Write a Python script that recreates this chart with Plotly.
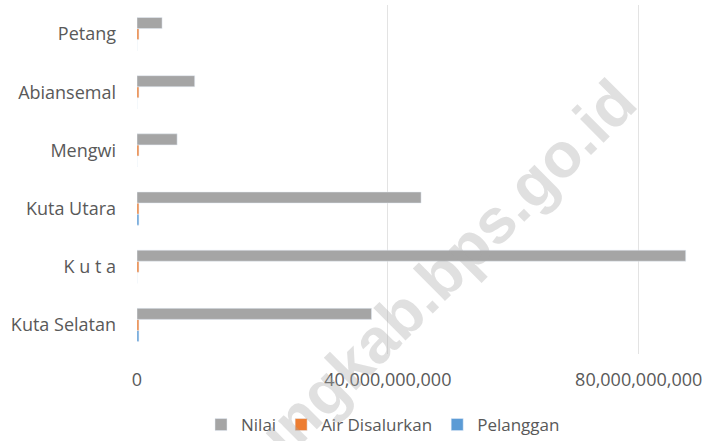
import plotly.graph_objects as go

# Data (bottom to top, as drawn on the category axis)
kecamatan = ["Kuta Selatan", "K u t a", "Kuta Utara", "Mengwi", "Abiansemal", "Petang"]
nilai = [37.4e9, 87.5e9, 45.3e9, 6.4e9, 9.2e9, 4.0e9]
air_disalurkan = [0.3e9, 0.3e9, 0.3e9, 0.3e9, 0.3e9, 0.3e9]
pelanggan = [0.3e9, 0, 0.3e9, 0, 0, 0]
x_ticks = [0, 40e9, 80e9]
x_tick_labels = ["0", "40,000,000,000", "80,000,000,000"]

W, H = 711, 441
L, R, T, B = 137, 14, 5, 87
PW, PH = W - L - R, H - T - B

fig = go.Figure()
fig.add_trace(go.Bar(name="Pelanggan", y=kecamatan, x=pelanggan, orientation="h",
                     marker_color="#5b9bd5", legendrank=3))
fig.add_trace(go.Bar(name="Air Disalurkan", y=kecamatan, x=air_disalurkan, orientation="h",
                     marker_color="#ed7d31", legendrank=2))
fig.add_trace(go.Bar(name="Nilai", y=kecamatan, x=nilai, orientation="h",
                     marker_color="#a5a5a5", legendrank=1))

font_fam = "Open Sans, Noto Sans, sans-serif"
fig.update_layout(
    width=W, height=H, autosize=False,
    margin=dict(l=L, r=R, t=T, b=B, pad=0, autoexpand=False),
    paper_bgcolor="white", plot_bgcolor="white",
    barmode="group", bargap=0.43, bargroupgap=0,
    font=dict(family=font_fam, color="#595959", size=18),
    xaxis=dict(range=[0, 89.3e9], tickvals=x_ticks, ticktext=x_tick_labels,
               showgrid=True, gridcolor="#e3e3e3", gridwidth=1, zeroline=False,
               showline=False, ticks="", ticklabelstandoff=13, automargin=False,
               tickfont=dict(size=18, color="#595959")),
    yaxis=dict(type="category", categoryorder="array", categoryarray=kecamatan,
               range=[-0.5, 5.5], showgrid=False, zeroline=False, showline=False,
               ticks="", ticklabelstandoff=20, automargin=False,
               tickfont=dict(size=18, color="#595959")),
    legend=dict(orientation="h", x=(383 - L) / PW, xanchor="center",
                y=(PH + T - 425) / PH, yanchor="middle",
                font=dict(size=17, color="#595959"), itemwidth=30,
                bgcolor="rgba(0,0,0,0)"),
    showlegend=True,
)

# watermark (colour chosen so it does not change the grey bars it crosses)
fig.add_annotation(text="badungkab.bps.go.id", xref="paper", yref="paper",
                   x=(400 - L) / PW, y=(H - B - 315) / PH,
                   xanchor="center", yanchor="middle",
                   showarrow=False, textangle=-45,
                   font=dict(family="Liberation Sans, Arial, sans-serif", size=63,
                             color="rgba(165,165,165,0.35)", weight="bold"))

fig.write_html("out.html", config={"displayModeBar": False},
               post_script="document.body.style.margin='0';document.body.style.overflow='hidden';")
